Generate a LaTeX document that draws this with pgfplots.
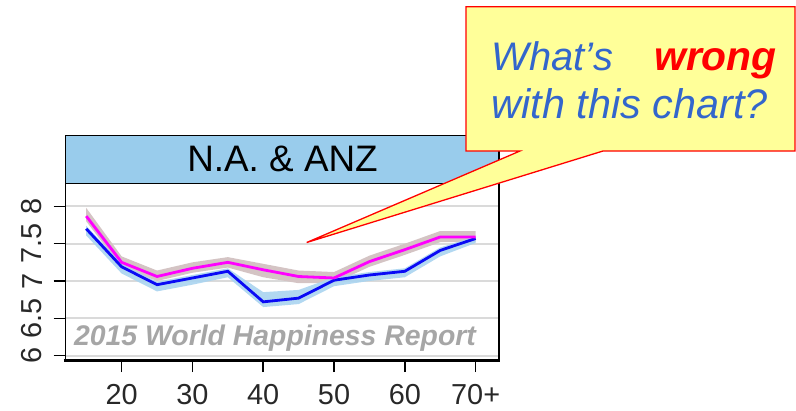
\documentclass[border=0pt]{standalone}
\usepackage{pgfplots}
\pgfplotsset{compat=1.18}
\usepgfplotslibrary{fillbetween}
\usepackage{fontspec}
\setmainfont{Liberation Sans}
\definecolor{stripblue}{RGB}{153,204,236}
\definecolor{bandblue}{RGB}{170,212,240}
\definecolor{bandtan}{RGB}{212,196,196}
\definecolor{gridgrey}{RGB}{218,218,218}
\definecolor{wmgrey}{RGB}{166,166,166}
\definecolor{qblue}{RGB}{51,102,204}
\definecolor{boxyellow}{RGB}{255,255,153}
\definecolor{ticktext}{RGB}{40,40,40}
\definecolor{pmag}{RGB}{255,0,255}
\definecolor{pblue}{RGB}{10,10,245}
\begin{document}
\begin{tikzpicture}
% strip
\fill[stripblue] (65.7bp,-135.7bp) rectangle (499bp,-183.3bp);
\draw[black,line width=1.5bp] (65.7bp,-183.3bp) -- (65.7bp,-135.7bp) -- (499bp,-135.7bp) -- (499bp,-183.3bp) -- cycle;
\node[font=\fontsize{37}{37}\selectfont, text=black] at (282.5bp,-158.5bp) {N.A. \& ANZ};
\begin{axis}[
  at={(65.7bp,-360bp)}, anchor=south west,
  scale only axis, width=433.3bp, height=176.7bp,
  xmin=12.1, xmax=73.3, ymin=5.94, ymax=8.31,
  xtick={20,30,40,50,60,70},
  xticklabels={20,30,40,50,60,70+},
  ytick={6,6.5,7,7.5,8},
  yticklabels={6,6.5,7,7.5,8},
  tick align=outside,
  major tick length=12bp,
  tick style={black,line width=1.5bp},
  xtick pos=bottom, ytick pos=left,
  axis line style={black,line width=1.5bp},
  ymajorgrids, grid style={gridgrey,line width=2bp},
  ticklabel style={font=\fontsize{29}{29}\selectfont, text=ticktext},
  xticklabel style={inner sep=1bp},
  yticklabel style={rotate=90, anchor=south},
  xticklabel shift=11bp,
  yticklabel shift=8bp,
  clip=false,
]
% magenta band
\addplot[name path=mu, draw=none] coordinates {(15,7.98) (20,7.33) (25,7.14) (30,7.25) (35,7.32) (40,7.23) (45,7.14) (50,7.12) (55,7.34) (60,7.50) (65,7.67) (70,7.67)};
\addplot[name path=ml, draw=none] coordinates {(15,7.80) (20,7.18) (25,7.00) (30,7.11) (35,7.18) (40,7.05) (45,6.97) (50,6.97) (55,7.19) (60,7.35) (65,7.52) (70,7.52)};
\addplot[bandtan] fill between[of=mu and ml];
% blue band
\addplot[name path=bu, draw=none] coordinates {(15,7.74) (20,7.23) (25,6.99) (30,7.08) (35,7.17) (40,6.85) (45,6.88) (50,7.05) (55,7.12) (60,7.17) (65,7.45) (70,7.60)};
\addplot[name path=bl, draw=none] coordinates {(15,7.61) (20,7.10) (25,6.86) (30,6.95) (35,7.05) (40,6.65) (45,6.69) (50,6.93) (55,7.00) (60,7.05) (65,7.33) (70,7.51)};
\addplot[bandblue, opacity=0.9] fill between[of=bu and bl];
% lines
\addplot[pblue, line width=2.8bp] coordinates {(15,7.70) (20,7.19) (25,6.95) (30,7.04) (35,7.13) (40,6.72) (45,6.77) (50,7.01) (55,7.08) (60,7.13) (65,7.41) (70,7.57)};
\addplot[pmag, line width=2.8bp] coordinates {(15,7.87) (20,7.25) (25,7.06) (30,7.17) (35,7.25) (40,7.15) (45,7.06) (50,7.04) (55,7.26) (60,7.42) (65,7.59) (70,7.59)};
\draw[black,line width=3bp] (rel axis cs:-0.005,0) -- (rel axis cs:1.002,0);
\node[font=\fontsize{28.5}{28.5}\selectfont\bfseries\itshape, text=wmgrey] at (rel axis cs:0.483,0.125) {2015 World Happiness Report};
\end{axis}
% callout
\draw[red, line width=1.3bp, fill=boxyellow] (466bp,-6.7bp) -- (795bp,-6.7bp) -- (795bp,-151bp) -- (603bp,-151bp) -- (306.7bp,-242.5bp) -- (520bp,-151bp) -- (466bp,-151bp) -- cycle;
\node[anchor=base west, font=\fontsize{40}{40}\selectfont\itshape, text=qblue, inner sep=0pt] at (491.7bp,-70bp) {What’s};
\node[anchor=base east, font=\fontsize{41}{41}\selectfont\bfseries\itshape, text=red, inner sep=0pt] at (777bp,-70bp) {wrong};
\node[anchor=base west, font=\fontsize{41.5}{41.5}\selectfont\itshape, text=qblue, inner sep=0pt] at (491.7bp,-118bp) {with this chart?};
\pgfresetboundingbox
\path[use as bounding box] (0,0) rectangle (796bp,-411bp);
\end{tikzpicture}
\end{document}
